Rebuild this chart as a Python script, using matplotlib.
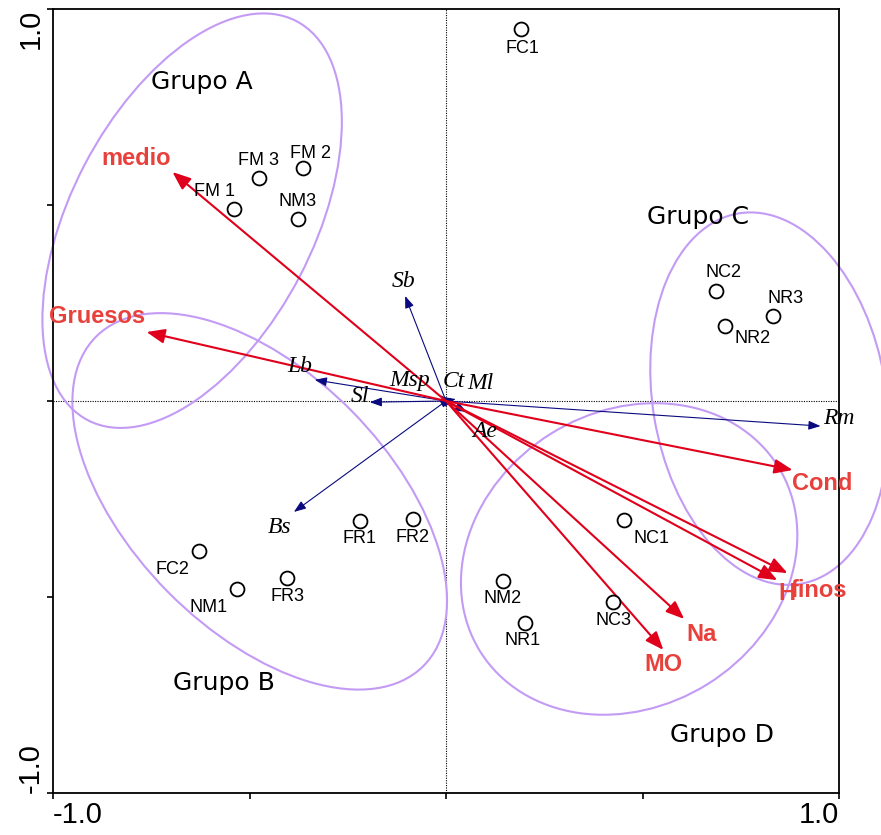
import numpy as np
import matplotlib
matplotlib.use("Agg")
import matplotlib.pyplot as plt
from matplotlib.patches import Ellipse

# ---------------- data ----------------
site_names = ["FC1", "FM 2", "FM 3", "FM 1", "NM3", "NC2", "NR3", "NR2", "NC1",
              "FR1", "FR2", "FC2", "NM1", "FR3", "NM2", "NR1", "NC3"]
site_x = [0.191, -0.364, -0.476, -0.540, -0.377, 0.688, 0.831, 0.711, 0.453,
          -0.219, -0.084, -0.629, -0.532, -0.405, 0.145, 0.201, 0.425]
site_y = [0.949, 0.594, 0.569, 0.490, 0.464, 0.281, 0.217, 0.191, -0.304,
          -0.306, -0.301, -0.383, -0.480, -0.452, -0.459, -0.566, -0.513]

env_names = ["medio", "Gruesos", "Cond", "finos", "H", "Na", "MO"]
env_x = [-0.696, -0.762, 0.882, 0.869, 0.843, 0.606, 0.553]
env_y = [0.584, 0.176, -0.176, -0.439, -0.457, -0.556, -0.635]

spp_names = ["Sb", "Lb", "Sl", "Msp", "Ct", "Ml", "Ae", "Rm", "Bs"]
spp_x = [-0.104, -0.334, -0.194, -0.015, 0.015, 0.025, 0.053, 0.953, -0.387]
spp_y = [0.268, 0.054, -0.003, 0.015, 0.008, 0.005, -0.028, -0.064, -0.283]

group_names = ["Grupo A", "Grupo B", "Grupo C", "Grupo D"]
group_cx = [-0.646, -0.474, 0.823, 0.466]
group_cy = [0.460, -0.256, 0.006, -0.403]
group_w = [1.148, 1.183, 0.958, 0.893]
group_h = [0.617, 0.657, 0.594, 0.753]
group_ang = [62.5, -45.4, 99.4, 32.0]

xtick_vals = [-1.0, -0.5, 0.0, 0.5, 1.0]
xtick_labels = ["-1.0", "", "", "", "1.0"]
ytick_vals = [-1.0, -0.5, 0.0, 0.5, 1.0]
ytick_labels = ["-1.0", "", "", "", "1.0"]

# ---------------- layout / style ----------------
px = 0.72  # points per pixel at dpi 100
site_off = [(1, 20), (8, -15), (0, -17), (-19, -17), (0, -18), (7, -18), (13, -17),
            (27, 12), (27, 18), (0, 18), (0, 19), (-26, 18), (-28, 18), (1, 18),
            (0, 18), (-2, 18), (0, 18)]
env_off = [(-36, -14), (-49, -16), (30, 14), (31, 17), (10, 13), (17, 16), (0, 15)]
spp_off = [(-2, -14), (-15, -13), (-10, -6), (-30, -15), (2, -16), (25, -16),
           (18, 20), (18, -8), (-14, 16)]
group_lab_pos = [(-0.622, 0.814), (-0.566, -0.719), (0.642, 0.469), (0.703, -0.852)]

RED = "#e0001b"
RED_TXT = "#e8413c"
NAVY = "#0a0a80"
PURPLE = "#c39bf5"

fig = plt.figure(figsize=(8.81, 8.35), dpi=100)
ax = fig.add_axes([53 / 881, 42 / 835, 786 / 881, 784 / 835])
ax.set_xlim(-1, 1)
ax.set_ylim(-1, 1)

for s in ax.spines.values():
    s.set_linewidth(1.3)
    s.set_color("black")

ax.axhline(0, color="black", lw=0.8, ls=(0, (1, 1.2)), zorder=1)
ax.axvline(0, color="black", lw=0.8, ls=(0, (1, 1.2)), zorder=1)

# ellipses
for cx, cy, w, h, a in zip(group_cx, group_cy, group_w, group_h, group_ang):
    e = Ellipse((cx, cy), w, h, angle=a, fill=False, edgecolor=PURPLE, lw=1.5,
                clip_on=False, zorder=2)
    ax.add_patch(e)
for name, (gx, gy) in zip(group_names, group_lab_pos):
    ax.text(gx, gy, name, fontsize=18, family="DejaVu Sans", ha="center", va="center",
            color="black", zorder=5)

# species arrows
for name, x, y, (ox, oy) in zip(spp_names, spp_x, spp_y, spp_off):
    ax.annotate("", xy=(x, y), xytext=(0, 0),
                arrowprops=dict(arrowstyle="-|>,head_length=0.8,head_width=0.3",
                                color=NAVY, lw=0.8, mutation_scale=9,
                                shrinkA=0, shrinkB=0), zorder=3)
    ax.annotate(name, xy=(x, y), xytext=(ox * px, -oy * px), textcoords="offset points",
                ha="center", va="center", fontsize=17, family="Liberation Serif",
                style="italic", color="black", zorder=5)

# environmental arrows
for name, x, y, (ox, oy) in zip(env_names, env_x, env_y, env_off):
    ax.annotate("", xy=(x, y), xytext=(0, 0),
                arrowprops=dict(arrowstyle="-|>,head_length=1.0,head_width=0.4",
                                color=RED, lw=1.5, mutation_scale=11,
                                shrinkA=0, shrinkB=0), zorder=4)
    ax.annotate(name, xy=(x, y), xytext=(ox * px, -oy * px), textcoords="offset points",
                ha="center", va="center", fontsize=17, family="Liberation Sans",
                weight="bold", color=RED_TXT, zorder=5)

# sites
ax.plot(site_x, site_y, ls="none", marker="o", ms=10, mfc="white", mec="black",
        mew=1.3, zorder=6)
for name, x, y, (ox, oy) in zip(site_names, site_x, site_y, site_off):
    ax.annotate(name, xy=(x, y), xytext=(ox * px, -oy * px), textcoords="offset points",
                ha="center", va="center", fontsize=13, family="Liberation Sans",
                color="black", zorder=7)

# ticks
ax.set_xticks(xtick_vals)
ax.set_xticklabels(xtick_labels, fontsize=21, family="Liberation Sans")
ax.set_yticks(ytick_vals)
ax.set_yticklabels(ytick_labels, fontsize=21, family="Liberation Sans", rotation=90)
ax.tick_params(direction="out", length=4, width=1.2, pad=2)
xt = ax.xaxis.get_major_ticks()
xt[0].label1.set_horizontalalignment("left")
xt[-1].label1.set_horizontalalignment("right")
yt = ax.yaxis.get_major_ticks()
yt[0].label1.set_verticalalignment("bottom")
yt[-1].label1.set_verticalalignment("top")
for t in yt:
    t.label1.set_horizontalalignment("right")

fig.savefig("out.png", dpi=100)
